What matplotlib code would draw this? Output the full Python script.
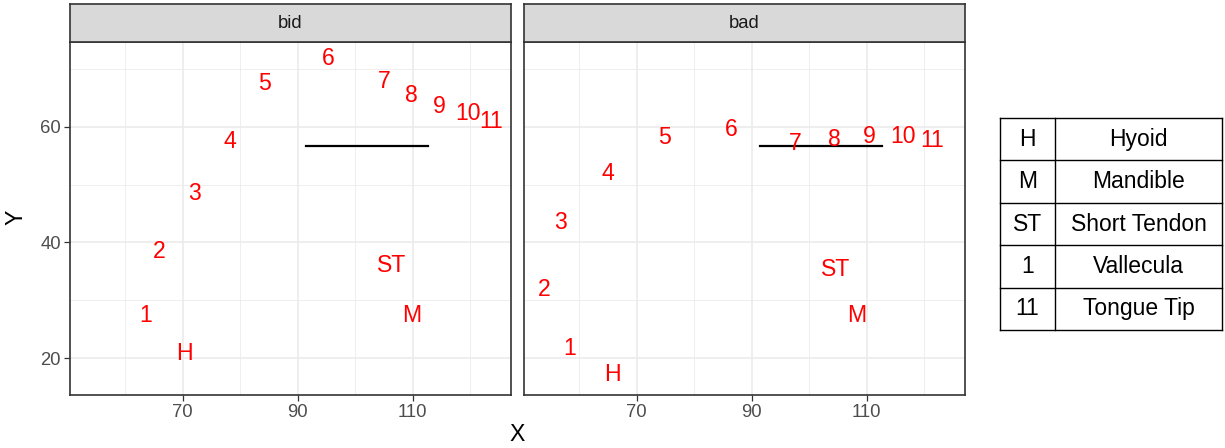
import matplotlib
matplotlib.use("Agg")
import matplotlib.pyplot as plt
from matplotlib.ticker import MultipleLocator

plt.rcParams['font.family'] = ['Liberation Sans', 'DejaVu Sans']

labels = ["H", "M", "ST", "1", "2", "3", "4", "5", "6", "7", "8", "9", "10", "11"]
bid_x = [70.3, 109.8, 106.3, 63.6, 66.0, 72.1, 78.2, 84.3, 95.4, 105.1, 109.8, 114.7, 119.6, 123.6]
bid_y = [20.7, 27.3, 36.1, 27.4, 38.5, 48.4, 57.4, 67.6, 71.9, 67.8, 65.4, 63.6, 62.3, 60.9]
bad_x = [65.8, 108.3, 104.6, 58.4, 53.9, 56.8, 65.0, 74.9, 86.5, 97.6, 104.3, 110.5, 116.4, 121.3]
bad_y = [17.1, 27.4, 35.4, 21.7, 31.8, 43.5, 52.0, 58.1, 59.5, 57.1, 57.9, 58.4, 58.4, 57.6]
line_x = [91.5, 112.6]
line_y = [56.7, 56.7]
panels = ["bid", "bad"]
legend_codes = ["H", "M", "ST", "1", "11"]
legend_names = ["Hyoid", "Mandible", "Short Tendon", "Vallecula", "Tongue Tip"]

W, H = 1225, 448
fig = plt.figure(figsize=(W / 100, H / 100), dpi=100)

def fa(x0, y0, x1, y1):
    return [x0 / W, 1 - y1 / H, (x1 - x0) / W, (y1 - y0) / H]

xlim = (50.4, 127.1)
ylim = (13.6, 74.7)
data = {"bid": (bid_x, bid_y), "bad": (bad_x, bad_y)}
lefts = [70, 524]
pw = 441
for i, name in enumerate(panels):
    x0 = lefts[i]
    ax = fig.add_axes(fa(x0, 42, x0 + pw, 395))
    ax.set_xlim(*xlim)
    ax.set_ylim(*ylim)
    ax.xaxis.set_major_locator(MultipleLocator(20, offset=10))
    ax.xaxis.set_minor_locator(MultipleLocator(10))
    ax.yaxis.set_major_locator(MultipleLocator(20))
    ax.yaxis.set_minor_locator(MultipleLocator(10))
    ax.grid(which='major', color='#EBEBEB', lw=1.2)
    ax.grid(which='minor', color='#EBEBEB', lw=0.6)
    ax.set_axisbelow(True)
    for s in ax.spines.values():
        s.set_color('#333333')
        s.set_linewidth(1.2)
    ax.tick_params(which='major', length=4, width=0.9, color='#333333',
                   labelsize=13.3, labelcolor='#4D4D4D', pad=2.5)
    ax.tick_params(which='minor', length=0)
    if i == 1:
        ax.tick_params(axis='y', which='major', labelleft=False, length=0)
    xs, ys = data[name]
    for lab, xv, yv in zip(labels, xs, ys):
        ax.text(xv, yv, lab, color='red', fontsize=16.6, ha='center', va='center')
    ax.plot(line_x, line_y, color='black', lw=1.6)
    # strip
    sax = fig.add_axes(fa(x0, 4, x0 + pw, 42))
    sax.set_facecolor('#D9D9D9')
    sax.set_xticks([]); sax.set_yticks([])
    for s in sax.spines.values():
        s.set_color('#333333')
        s.set_linewidth(1.2)
    sax.text(0.5, 0.5, name, ha='center', va='center', fontsize=13.3, color='#1A1A1A',
             transform=sax.transAxes)

fig.text(517 / W, 1 - 434 / H, "X", ha='center', va='center', fontsize=16.6)
fig.text(16 / W, 1 - 217 / H, "Y", ha='center', va='center', fontsize=16.6, rotation=90)

# legend table
tax = fig.add_axes(fa(1000, 118, 1222, 330))
tax.set_xlim(1000, 1222)
tax.set_ylim(330, 118)
tax.axis('off')
n = len(legend_codes)
rh = (330 - 118) / n
for k in range(n + 1):
    tax.plot([1000, 1222], [118 + k * rh] * 2, color='black', lw=1, clip_on=False)
for xv in [1000, 1055, 1222]:
    tax.plot([xv, xv], [118, 330], color='black', lw=1, clip_on=False)
for k, (c, nm) in enumerate(zip(legend_codes, legend_names)):
    yc = 118 + (k + 0.5) * rh
    tax.text(1027.5, yc, c, ha='center', va='center', fontsize=16.5)
    tax.text(1138.5, yc, nm, ha='center', va='center', fontsize=16.5)

fig.savefig("out.png", dpi=100)
